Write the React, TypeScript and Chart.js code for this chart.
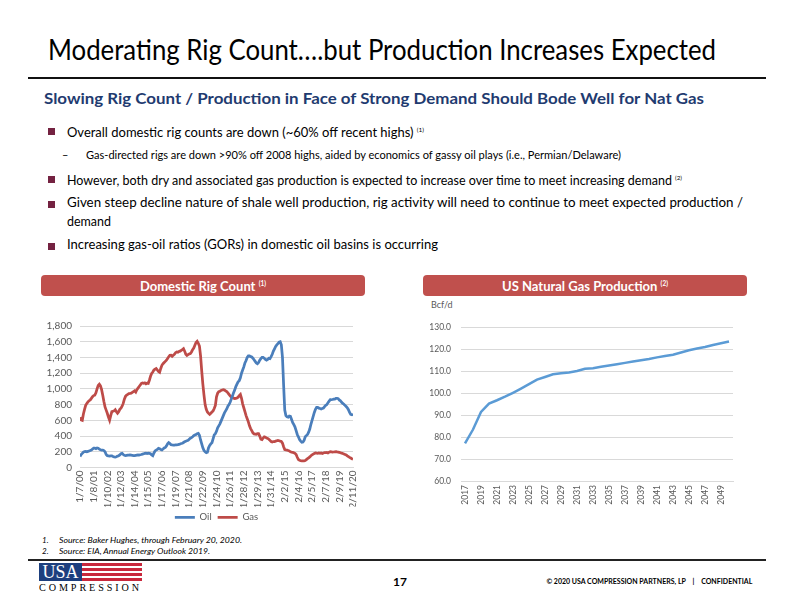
import React, { useEffect, useLayoutEffect, useRef } from "react";
import { Chart, registerables } from "chart.js";

Chart.register(...registerables);

const FONT = "Lato, 'Noto Sans', sans-serif";
const SERIF = "'Liberation Serif', 'DejaVu Serif', serif";

// ---------- Domestic rig count (monthly readings, Jan 2000 – Feb 2020) ----------
const rigTickLabels = [
  "1/7/00", "1/8/01", "1/10/02", "1/12/03", "1/14/04", "1/15/05", "1/17/06",
  "1/19/07", "1/21/08", "1/22/09", "1/24/10", "1/26/11", "1/28/12", "1/29/13",
  "1/31/14", "2/2/15", "2/4/16", "2/5/17", "2/7/18", "2/9/19", "2/11/20",
];

const oilRigs = [
  139, 165, 180, 195, 203, 205, 200, 205, 210, 215, 222, 235,
  245, 245, 240, 248, 245, 235, 225, 222, 222, 215, 200, 165,
  150, 148, 145, 148, 148, 140, 135, 132, 138, 145, 150, 160,
  175, 180, 165, 155, 152, 155, 158, 157, 160, 158, 155, 152,
  152, 155, 158, 160, 158, 162, 165, 170, 175, 180, 182, 178,
  182, 180, 175, 160, 150, 185, 210, 222, 230, 245, 240, 228,
  224, 235, 248, 255, 275, 300, 317, 305, 290, 287, 285, 285,
  287, 288, 290, 293, 300, 305, 308, 318, 328, 335, 340, 345,
  360, 372, 380, 392, 405, 414, 420, 430, 435, 410, 350, 300,
  250, 215, 200, 188, 195, 250, 280, 300, 315, 365, 415, 430,
  460, 505, 530, 555, 590, 625, 660, 695, 720, 745, 780, 800,
  830, 870, 910, 950, 985, 1030, 1060, 1090, 1105, 1140, 1200, 1240,
  1280, 1330, 1360, 1400, 1420, 1420, 1410, 1405, 1390, 1370, 1350, 1330,
  1320, 1335, 1365, 1385, 1400, 1400, 1390, 1375, 1365, 1375, 1390, 1385,
  1410, 1440, 1480, 1510, 1540, 1560, 1575, 1595, 1600, 1560, 1400, 1050,
  731, 660, 645, 640, 655, 650, 610, 570, 545, 515, 470, 420,
  390, 355, 335, 322, 325, 345, 390, 405, 420, 450, 490, 550,
  600, 650, 700, 740, 765, 765, 755, 750, 745, 750, 755, 775,
  790, 800, 825, 845, 862, 862, 865, 870, 870, 880, 880, 875,
  858, 850, 830, 815, 805, 790, 775, 760, 735, 700, 675, 670,
  680,
];

const gasRigs = [
  640, 605, 600, 680, 740, 790, 815, 835, 850, 860, 880, 900,
  915, 920, 950, 1000, 1045, 1060, 1040, 990, 920, 840, 770, 730,
  690, 640, 600, 660, 710, 715, 720, 735, 710, 690, 710, 740,
  755, 780, 815, 870, 905, 921, 930, 940, 942, 945, 955, 965,
  975, 960, 990, 1010, 1030, 1050, 1070, 1075, 1070, 1077, 1065, 1072,
  1069, 1110, 1160, 1196, 1215, 1240, 1250, 1259, 1240, 1220, 1210, 1260,
  1300, 1320, 1335, 1350, 1365, 1385, 1410, 1428, 1430, 1415, 1428, 1440,
  1460, 1470, 1465, 1475, 1480, 1490, 1500, 1512, 1480, 1440, 1425, 1435,
  1445, 1450, 1470, 1500, 1520, 1555, 1590, 1605, 1580, 1545, 1420, 1230,
  1060, 920, 800, 740, 705, 690, 676, 690, 705, 720, 750, 790,
  900, 945, 965, 970, 980, 985, 990, 985, 975, 965, 950, 930,
  910, 895, 890, 882, 878, 880, 885, 895, 915, 930, 880, 810,
  760, 710, 660, 620, 580, 530, 495, 470, 440, 428, 425, 422,
  430, 430, 400, 360, 355, 375, 390, 385, 375, 370, 360, 345,
  330, 325, 330, 330, 335, 340, 345, 340, 335, 332, 310, 265,
  228, 224, 222, 215, 210, 200, 195, 192, 188, 180, 165, 130,
  102, 92, 88, 85, 85, 84, 88, 100, 112, 122, 135, 150,
  160, 170, 178, 185, 182, 180, 184, 180, 185, 178, 185, 190,
  188, 192, 185, 195, 200, 198, 195, 197, 200, 202, 198, 196,
  192, 188, 182, 178, 172, 166, 160, 148, 138, 128, 120, 112,
  106,
];

// ---------- US natural gas production (Bcf/d) ----------
const productionYears = [
  "2017", "2018", "2019", "2020", "2021", "2022", "2023", "2024", "2025",
  "2026", "2027", "2028", "2029", "2030", "2031", "2032", "2033", "2034",
  "2035", "2036", "2037", "2038", "2039", "2040", "2041", "2042", "2043",
  "2044", "2045", "2046", "2047", "2048", "2049", "2050",
];
const gasProduction = [
  77.1, 83.4, 91.4, 95.2, 96.7, 98.3, 100.1, 102.0, 104.0,
  106.1, 107.3, 108.5, 109.0, 109.3, 110.0, 111.0, 111.3, 111.9,
  112.5, 113.1, 113.7, 114.3, 114.9, 115.5, 116.2, 116.8, 117.4,
  118.4, 119.4, 120.2, 120.9, 121.8, 122.6, 123.4,
];

const bullets = [
  "Overall domestic rig counts are down (~60% off recent highs)",
  "Gas-directed rigs are down >90% off 2008 highs, aided by economics of gassy oil plays (i.e., Permian/Delaware)",
  "However, both dry and associated gas production is expected to increase over time to meet increasing demand",
  "Given steep decline nature of shale well production, rig activity will need to continue to meet expected production /",
  "demand",
  "Increasing gas-oil ratios (GORs) in domestic oil basins is occurring",
];

const TICK_COLOR = "#595959";
const GRID_COLOR = "#D9D9D9";

type TxtProps = {
  x: number;
  base: number;
  size: number;
  w?: number;
  bold?: boolean;
  italic?: boolean;
  color?: string;
  right?: boolean;
  family?: string;
  spacing?: number;
  children: React.ReactNode;
};

function Txt({ x, base, size, w, bold, italic, color = "#000", right, family = FONT, spacing, children }: TxtProps) {
  const ref = useRef<HTMLSpanElement>(null);
  useLayoutEffect(() => {
    const el = ref.current;
    if (!el || !w) return;
    const fit = () => {
      el.style.transform = "none";
      const nat = el.getBoundingClientRect().width;
      if (nat > 0) el.style.transform = `scaleX(${w / nat})`;
    };
    fit();
    (document as any).fonts?.ready?.then(fit);
  });
  const style: React.CSSProperties = {
    position: "absolute",
    top: base - 0.987 * size,
    fontSize: size,
    lineHeight: `${1.2 * size}px`,
    fontFamily: family,
    fontWeight: bold ? 700 : 400,
    fontStyle: italic ? "italic" : "normal",
    color,
    whiteSpace: "nowrap",
    letterSpacing: spacing,
    transformOrigin: right ? "right top" : "left top",
  };
  if (right) style.right = 792 - x;
  else style.left = x;
  return (
    <span ref={ref} style={style}>
      {children}
    </span>
  );
}

const Sup = ({ t }: { t: string }) => (
  <span style={{ fontSize: "0.5em", verticalAlign: "0.7em", marginLeft: "0.5em" }}>{t}</span>
);

function ChartBox({ left, top, width, height, make }: { left: number; top: number; width: number; height: number; make: () => any }) {
  const ref = useRef<HTMLCanvasElement>(null);
  useEffect(() => {
    if (!ref.current) return;
    const chart = new Chart(ref.current, make());
    return () => chart.destroy();
  }, []);
  return <canvas ref={ref} width={width} height={height} style={{ position: "absolute", left, top, width, height }} />;
}

function rigConfig() {
  return {
    type: "line",
    data: {
      datasets: [
        {
          label: "Oil",
          data: oilRigs.map((v, i) => ({ x: i, y: v })),
          borderColor: "#4A7EBB",
          backgroundColor: "#4A7EBB",
          borderWidth: 2.75,
          pointRadius: 0,
          tension: 0,
        },
        {
          label: "Gas",
          data: gasRigs.map((v, i) => ({ x: i, y: v })),
          borderColor: "#BE4B48",
          backgroundColor: "#BE4B48",
          borderWidth: 2.75,
          pointRadius: 0,
          tension: 0,
        },
      ],
    },
    options: {
      animation: false,
      responsive: false,
      events: [],
      layout: { padding: { top: 26, right: 17, bottom: 0, left: 0 } },
      plugins: {
        tooltip: { enabled: false },
        legend: {
          position: "bottom",
          fullSize: false,
          labels: {
            usePointStyle: true,
            pointStyle: "line",
            pointStyleWidth: 20,
            boxHeight: 8,
            padding: 6,
            color: TICK_COLOR,
            font: { family: FONT, size: 9.5 },
          },
        },
      },
      scales: {
        x: {
          type: "linear",
          min: 0,
          max: oilRigs.length - 1,
          grid: { display: false, drawTicks: false },
          border: { display: true, color: GRID_COLOR },
          ticks: {
            stepSize: 12,
            autoSkip: false,
            minRotation: 90,
            maxRotation: 90,
            padding: 3,
            color: TICK_COLOR,
            font: { family: FONT, size: 10 },
            callback: (v: number) => rigTickLabels[Math.round(v / 12)] ?? "",
          },
          afterFit: (s: any) => {
            s.height = 39;
          },
        },
        y: {
          min: 0,
          max: 1800,
          grid: { color: GRID_COLOR, drawTicks: false },
          border: { display: false },
          ticks: {
            stepSize: 200,
            autoSkip: false,
            padding: 8,
            color: TICK_COLOR,
            font: { family: FONT, size: 10 },
            callback: (v: number) => Number(v).toLocaleString("en-US"),
          },
          afterFit: (s: any) => {
            s.width = 50;
          },
        },
      },
    },
  };
}

function productionConfig() {
  return {
    type: "line",
    data: {
      labels: productionYears,
      datasets: [
        {
          label: "Production",
          data: gasProduction,
          borderColor: "#5B9BD5",
          borderWidth: 2.5,
          pointRadius: 0,
          tension: 0,
        },
      ],
    },
    options: {
      animation: false,
      responsive: false,
      events: [],
      layout: { padding: { top: 27, right: 27, bottom: 25, left: 0 } },
      plugins: { tooltip: { enabled: false }, legend: { display: false } },
      scales: {
        x: {
          offset: true,
          grid: { display: false, drawTicks: false },
          border: { display: true, color: GRID_COLOR },
          ticks: {
            autoSkip: false,
            minRotation: 90,
            maxRotation: 90,
            padding: 4,
            color: TICK_COLOR,
            font: { family: FONT, size: 8.5 },
            callback: (_v: any, i: number) => (i % 2 === 0 ? productionYears[i] : ""),
          },
          afterFit: (s: any) => {
            s.height = 26;
          },
        },
        y: {
          min: 60,
          max: 130,
          grid: { color: GRID_COLOR, drawTicks: false },
          border: { display: false },
          ticks: {
            stepSize: 10,
            autoSkip: false,
            padding: 10,
            color: TICK_COLOR,
            font: { family: FONT, size: 8.5 },
            callback: (v: number) => Number(v).toFixed(1),
          },
          afterFit: (s: any) => {
            s.width = 41;
          },
        },
      },
    },
  };
}

function HeaderBar({ left, text, sup }: { left: number; text: string; sup: string }) {
  return (
    <div
      style={{
        position: "absolute",
        left,
        top: 275,
        width: 324,
        height: 21,
        background: "#C0504D",
        borderRadius: 4,
        display: "flex",
        alignItems: "center",
        justifyContent: "center",
        color: "#fff",
        fontFamily: FONT,
        fontWeight: 700,
        fontSize: 13,
        whiteSpace: "nowrap",
      }}
    >
      <span>
        {text}
        <Sup t={sup} />
      </span>
    </div>
  );
}

function Bullet({ y }: { y: number }) {
  return <div style={{ position: "absolute", left: 48, top: y, width: 6.5, height: 6.5, background: "#742241" }} />;
}

export default function App() {
  return (
    <div
      style={{
        position: "absolute",
        left: 0,
        top: 0,
        width: 792,
        height: 612,
        background: "#fff",
        overflow: "hidden",
      }}
    >
      {/* Title */}
      <Txt x={48} base={61} size={28} w={668}>
        Moderating Rig Count….but Production Increases Expected
      </Txt>
      <div style={{ position: "absolute", left: 28, top: 77, width: 738, height: 2, background: "#111" }} />

      {/* Subtitle */}
      <Txt x={44} base={104} size={16} w={660} bold color="#1F3B70">
        Slowing Rig Count / Production in Face of Strong Demand Should Bode Well for Nat Gas
      </Txt>

      {/* Bullets */}
      <Bullet y={128} />
      <Txt x={67} base={135} size={13} w={357}>
        {bullets[0]}
        <Sup t="(1)" />
      </Txt>
      <Txt x={62} base={159} size={11}>–</Txt>
      <Txt x={86} base={159} size={11} w={535}>
        {bullets[1]}
      </Txt>
      <Bullet y={176} />
      <Txt x={67} base={183} size={13} w={615}>
        {bullets[2]}
        <Sup t="(2)" />
      </Txt>
      <Bullet y={201} />
      <Txt x={67} base={208} size={13} w={676}>
        {bullets[3]}
      </Txt>
      <Txt x={67} base={227} size={13} w={44}>
        {bullets[4]}
      </Txt>
      <Bullet y={243} />
      <Txt x={67} base={250} size={13} w={371}>
        {bullets[5]}
      </Txt>

      {/* Chart headers */}
      <HeaderBar left={41} text="Domestic Rig Count" sup="(1)" />
      <HeaderBar left={423} text="US Natural Gas Production" sup="(2)" />

      {/* Charts */}
      <ChartBox left={30} top={300} width={340} height={232} make={rigConfig} />
      <Txt x={431} base={309} size={9} color={TICK_COLOR}>
        Bcf/d
      </Txt>
      <ChartBox left={420} top={300} width={340} height={232} make={productionConfig} />

      {/* Footnotes */}
      <Txt x={42} base={544} size={8} italic>1.</Txt>
      <Txt x={59} base={544} size={8} italic w={183}>
        Source: Baker Hughes, through February 20, 2020.
      </Txt>
      <Txt x={42} base={555} size={8} italic>2.</Txt>
      <Txt x={59} base={555} size={8} italic w={151}>
        Source: EIA, Annual Energy Outlook 2019.
      </Txt>
      <div style={{ position: "absolute", left: 28, top: 559, width: 738, height: 2, background: "#222" }} />

      {/* Logo */}
      <div
        style={{
          position: "absolute",
          left: 39,
          top: 563,
          width: 43,
          height: 18,
          background: "#1D3F7E",
          color: "#fff",
          fontFamily: SERIF,
          fontSize: 18,
          lineHeight: "19px",
          textAlign: "center",
        }}
      >
        USA
      </div>
      <div
        style={{
          position: "absolute",
          left: 82,
          top: 563,
          width: 60,
          height: 18,
          background:
            "repeating-linear-gradient(to bottom, #C8283C 0px, #C8283C 2.57px, #ffffff 2.57px, #ffffff 5.14px)",
        }}
      />
      <Txt x={39} base={592} size={10.5} w={103} family={SERIF} spacing={3}>
        COMPRESSION
      </Txt>

      {/* Footer */}
      <Txt x={393} base={587} size={12} bold>
        17
      </Txt>
      <Txt x={752} base={584} size={7.5} bold right w={206}>
        © 2020 USA COMPRESSION PARTNERS, LP&nbsp;&nbsp;&nbsp;&nbsp;|&nbsp;&nbsp;&nbsp;&nbsp;CONFIDENTIAL
      </Txt>
    </div>
  );
}
